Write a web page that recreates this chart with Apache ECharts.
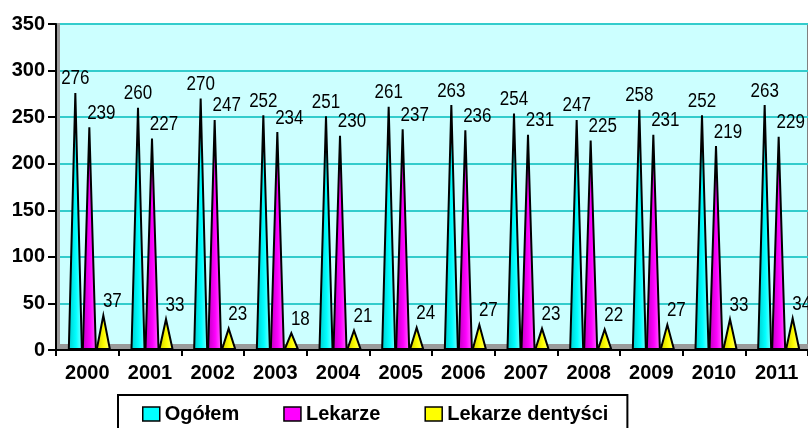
<!DOCTYPE html>
<html>
<head>
<meta charset="utf-8">
<script src="https://cdn.jsdelivr.net/npm/echarts@6/dist/echarts.min.js"></script>
<style>
html,body{margin:0;padding:0;background:#fff;}
#chart{width:808px;height:428px;}
</style>
</head>
<body>
<div id="chart"></div>
<script>
const categories = ['2000','2001','2002','2003','2004','2005','2006','2007','2008','2009','2010','2011'];
const ogolem = [276,260,270,252,251,261,263,254,247,258,252,263];
const lekarze = [239,227,247,234,230,237,236,231,225,231,219,229];
const dentysci = [37,33,23,18,21,24,27,23,22,27,33,34];
const yTicks = {min:0, max:350, interval:50};

function grad(c0, c1, c2){
  return new echarts.graphic.LinearGradient(0,0,1,0,[
    {offset:0,color:c0},{offset:0.55,color:c1},{offset:1,color:c2}
  ]);
}
const slotOffset = [-12, 2, 16];
const labelShift = [0, 12, 9];
function mk(name, values, idx, solid, fill){
  return {
    name: name,
    type: 'custom',
    data: values.map((v,i)=>[i,v]),
    encode: {x:0, y:1},
    z: 5,
    itemStyle: {color: solid},
    renderItem: function(params, api){
      const top = api.coord([api.value(0), api.value(1)]);
      const base = api.coord([api.value(0), 0]);
      const cx = top[0] + slotOffset[idx];
      const hw = 6.5;
      return {
        type:'group',
        children:[
          {
            type:'polygon',
            shape:{points:[[cx-hw, base[1]-1],[cx+hw, base[1]-1],[cx, top[1]]]},
            style:{fill: fill, stroke:'#000', lineWidth:2, lineJoin:'miter'}
          },
          {
            type:'text',
            x: cx + labelShift[idx], y: top[1] - 4,
            scaleX: 0.85, scaleY: 1,
            style:{
              text: String(api.value(1)),
              x: 0, y: 0,
              align:'center', verticalAlign:'bottom',
              font: '20px "Liberation Sans", Arial, sans-serif',
              fill:'#000'
            }
          }
        ]
      };
    }
  };
}
const chart = echarts.init(document.getElementById('chart'), null, {renderer:'canvas'});
const bold = {fontFamily:'"Liberation Sans",Arial,sans-serif', fontWeight:'bold', fontSize:20, color:'#000'};
chart.setOption({
  animation:false,
  backgroundColor:'#fff',
  grid:{left:56, right:0, top:24, bottom:78, show:true, backgroundColor:'#CCFFFF', borderColor:'#808080', borderWidth:2},
  xAxis:{
    type:'category', data:categories,
    axisLine:{lineStyle:{color:'#000', width:2}},
    axisTick:{show:true, length:6, lineStyle:{color:'#000', width:2}},
    axisLabel:Object.assign({margin:13, interval:0}, bold),
    splitLine:{show:false}
  },
  yAxis:{
    type:'value', min:yTicks.min, max:yTicks.max, interval:yTicks.interval,
    axisLine:{show:true, lineStyle:{color:'#000', width:2}},
    axisTick:{show:true, length:8, lineStyle:{color:'#000', width:2}},
    axisLabel:Object.assign({margin:11}, bold),
    splitLine:{lineStyle:{color:'#33CCCC', width:2}}
  },
  legend:{
    left:118, top:395, orient:'horizontal',
    itemWidth:17, itemHeight:14, itemGap:44,
    padding:[9,19,20,24],
    borderColor:'#000', borderWidth:2,
    icon:'rect',
    itemStyle:{borderColor:'#000', borderWidth:1.5},
    textStyle:bold,
    data:[
      {name:'Ogółem', itemStyle:{color:'#00FFFF'}},
      {name:'Lekarze', itemStyle:{color:'#FF00FF'}},
      {name:'Lekarze dentyści', itemStyle:{color:'#FFFF00'}}
    ]
  },
  graphic:[
    {type:'rect', shape:{x:57, y:344, width:752, height:5}, style:{fill:'#9a9a9a'}, z:1, silent:true},
    {type:'rect', shape:{x:57, y:23, width:3, height:322}, style:{fill:'#9a9a9a'}, z:1, silent:true}
  ],
  series:[
    mk('Ogółem', ogolem, 0, '#00FFFF', grad('#00C8C8','#00FFFF','#8CFFFF')),
    mk('Lekarze', lekarze, 1, '#FF00FF', grad('#B800B8','#FF00FF','#FF70FF')),
    mk('Lekarze dentyści', dentysci, 2, '#FFFF00', grad('#C8C800','#FFFF00','#FFFF90'))
  ]
});
</script>
</body>
</html>
